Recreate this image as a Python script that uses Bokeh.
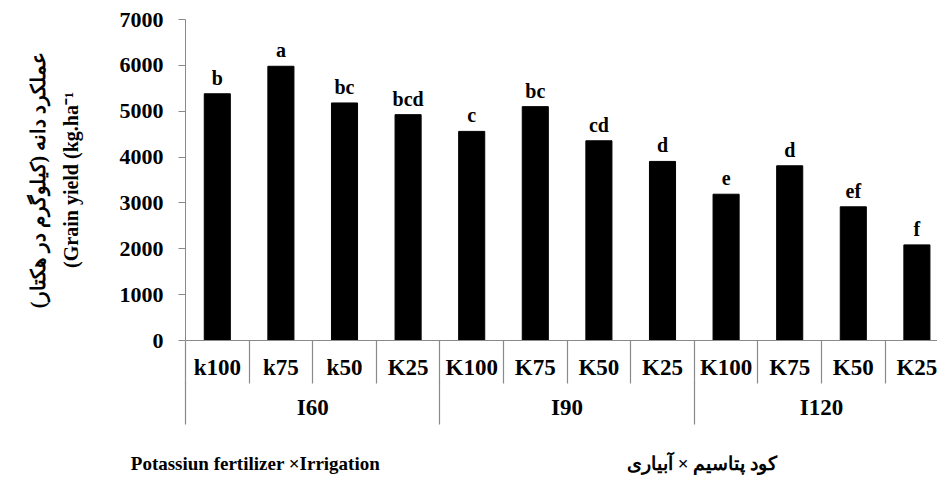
from bokeh.plotting import figure
from bokeh.models import Range1d, FixedTicker, LinearAxis
from bokeh.embed import file_html
from bokeh.resources import INLINE
from bokeh.core.properties import value

# ---------------- data ----------------
irrigation = ["I60", "I90", "I120"]
potassium = ["k100", "k75", "k50", "K25",
             "K100", "K75", "K50", "K25",
             "K100", "K75", "K50", "K25"]
irrigation_of = ["I60"] * 4 + ["I90"] * 4 + ["I120"] * 4
grain_yield = [5380, 5980, 5180, 4925, 4560, 5100, 4355, 3905, 3190, 3810, 2915, 2085]
letters = ["b", "a", "bc", "bcd", "c", "bc", "cd", "d", "e", "d", "ef", "f"]
y_ticks = [0, 1000, 2000, 3000, 4000, 5000, 6000, 7000]

y_label = "عملکرد دانه (کیلوگرم در هکتار)\u200f\n(Grain yield (kg.ha\u207b\u00b9"
x_title_en = "Potassiun fertilizer \u00d7Irrigation"
x_title_fa = "کود پتاسیم \u00d7 آبیاری"

# ---------------- layout ----------------
FONT = value("Liberation Serif")
GREY = "#8a8a8a"
FRAME_LEFT_PX = 185
FRAME_W = 752
CAT_PX = 63.6
FRAME_H = 321

n = len(potassium)
idx = list(range(n))

p = figure(frame_width=FRAME_W, frame_height=FRAME_H,
           x_range=Range1d(-0.5, -0.5 + FRAME_W / CAT_PX),
           y_range=Range1d(0, y_ticks[-1]),
           x_axis_location=None,
           min_border_left=FRAME_LEFT_PX, min_border_right=0,
           min_border_top=19, min_border_bottom=0,
           toolbar_location=None, output_backend="svg")
p.outline_line_color = None
p.xgrid.visible = False
p.ygrid.visible = False
p.background_fill_color = "white"
p.border_fill_color = "white"

# ---------------- y axis ----------------
ax = p.yaxis[0]
ax.ticker = FixedTicker(ticks=y_ticks)
ax.axis_line_color = GREY
ax.major_tick_line_color = GREY
ax.major_tick_out = 7
ax.major_tick_in = 0
ax.minor_tick_out = 0
ax.minor_tick_in = 0
ax.major_label_text_font = "Liberation Serif"
ax.major_label_text_font_style = "bold"
ax.major_label_text_font_size = "22px"
ax.major_label_text_color = "black"
ax.major_label_standoff = 15
ax.axis_label = y_label
ax.axis_label_text_font = "Liberation Serif"
ax.axis_label_text_font_style = "bold"
ax.axis_label_text_font_size = "20px"
ax.axis_label_text_color = "black"
ax.axis_label_standoff = 35
ax.axis_label_text_line_height = 1.5

# ---------------- bars and letters ----------------
p.vbar(x=idx, top=grain_yield, width=0.41, color="black")
p.text(x=idx, y=grain_yield, text=letters, y_offset=-16,
       text_align="center", text_baseline="alphabetic",
       text_font=FONT, text_font_style="bold", text_font_size="20px",
       text_color="black")

# ---------------- category table below the frame ----------------
boundaries = [i - 0.5 for i in range(n + 1)]
group_bounds = [i - 0.5 for i in range(n + 1)
                if i == 0 or i == n or irrigation_of[i] != irrigation_of[i - 1]]
group_centers = []
for g in irrigation:
    members = [i for i in idx if irrigation_of[i] == g]
    group_centers.append(sum(members) / len(members))

def bare_axis(ticks, labels, minor, minor_len, standoff, size, line=None):
    a = LinearAxis(ticker=FixedTicker(ticks=ticks, minor_ticks=minor),
                   major_label_overrides=dict(zip(ticks, labels)))
    a.axis_line_color = line
    a.major_tick_line_color = None
    a.major_tick_out = 0
    a.major_tick_in = 0
    a.minor_tick_line_color = GREY
    a.minor_tick_line_width = 1.2
    a.minor_tick_out = minor_len
    a.minor_tick_in = 0
    a.major_label_standoff = standoff
    a.major_label_text_font = "Liberation Serif"
    a.major_label_text_font_style = "bold"
    a.major_label_text_font_size = size
    a.major_label_text_color = "black"
    return a

# potassium row (its line is the category axis line); the separators are
# the minor ticks, the labels are pulled back up between them
k_axis = bare_axis(idx, potassium, boundaries, 43, -29, "23px", line=GREY)
p.add_layout(k_axis, "below")

# irrigation row
i_axis = bare_axis(group_centers, irrigation, group_bounds, 42, -30, "23px")
p.add_layout(i_axis, "below")

# x titles
title_pos = [0.6, 7.62]
t_axis = bare_axis(title_pos, [x_title_en, x_title_fa], [], 0, 30, "19px")
p.add_layout(t_axis, "below")

open("out.html", "w").write(file_html(p, INLINE))
